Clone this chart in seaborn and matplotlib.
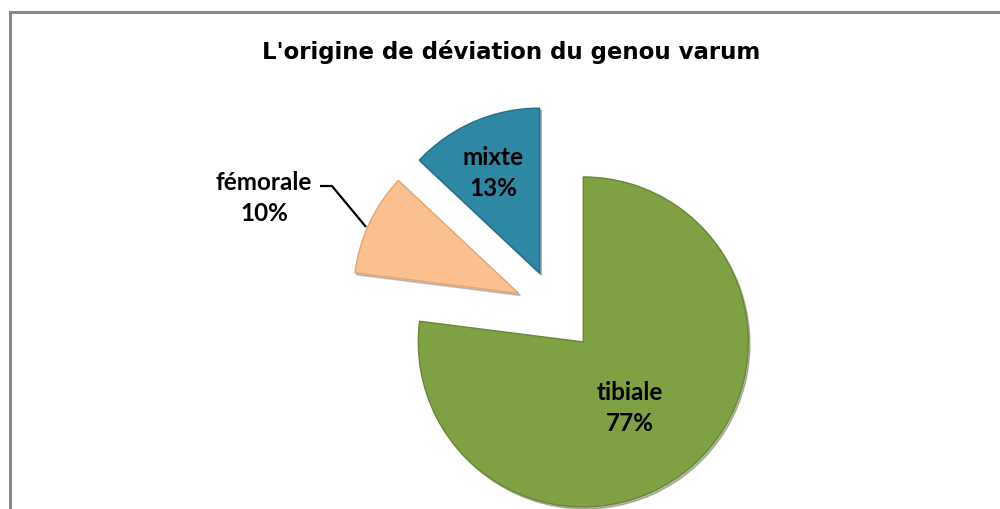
import matplotlib
matplotlib.use("Agg")
import matplotlib.pyplot as plt
import seaborn as sns
from matplotlib.patches import Rectangle

# data
categories = ["tibiale", "fémorale", "mixte"]
percents = [77, 10, 13]
colors = ["#80A044", "#FAC08F", "#2E87A3"]
edge_colors = ["#6A8737", "#E0A676", "#246E86"]

sns.set_theme(style="white")
plt.rcParams["font.family"] = ["Lato", "DejaVu Sans"]

fig = plt.figure(figsize=(10, 5.1), dpi=100)
ax = fig.add_axes([0, 0, 1, 1])

# axes are in pixel units so the pie radius / explode
radius = 165
wedges, _ = ax.pie(
    percents,
    colors=colors,
    startangle=90,
    counterclock=False,
    explode=[0.25 * radius] * len(percents),
    center=(556, 198),
    radius=radius,
    wedgeprops=dict(linewidth=1.0),
    shadow=dict(ox=1.2, oy=-1.5, shade=0.5, alpha=0.35),
    frame=True,
)
for w, ec in zip(wedges, edge_colors):
    w.set_edgecolor(ec)
ax.set_xlim(0, 1000)
ax.set_ylim(0, 510)
ax.set_aspect("equal")
ax.axis("off")

# chart frame (right and bottom edges fall outside the crop)
ax.add_patch(Rectangle((10, -20), 1010, 517, fill=False, edgecolor="#888888", lw=2.2, clip_on=True))

ax.text(511, 458, "L'origine de déviation du genou varum", ha="center", va="center",
        fontsize=16.5, fontweight="bold", color="black", family=["DejaVu Sans"])

label_pos = {"tibiale": (630, 102), "fémorale": (264, 312), "mixte": (493, 337)}
for name, pct in zip(categories, percents):
    x, y = label_pos[name]
    ax.text(x, y, f"{name}\n{pct}%", ha="center", va="center", fontsize=17.5,
            fontweight="bold", color="black", linespacing=1.4, multialignment="center")

# leader line for fémorale
ax.plot([320, 332, 366], [323, 323, 282], color="black", lw=1.6, solid_capstyle="butt")

fig.savefig("out.png", dpi=100, facecolor="white")
